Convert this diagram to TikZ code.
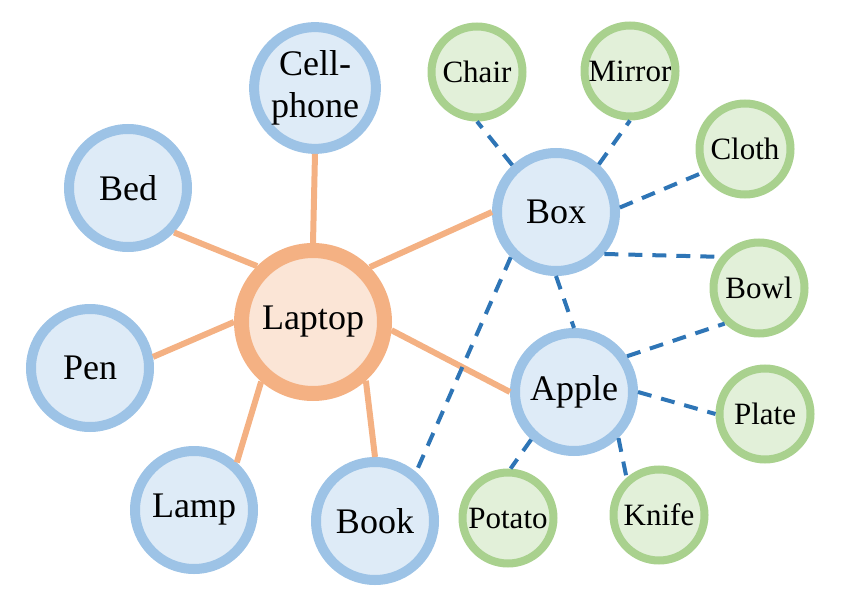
\documentclass[tikz,border=0pt]{standalone}
\usepackage{fontspec}
\setmainfont{Liberation Serif}

\definecolor{objline}{HTML}{9DC3E6}
\definecolor{objfill}{HTML}{DEEBF7}
\definecolor{mainline}{HTML}{F4B183}
\definecolor{mainfill}{HTML}{FBE5D6}
\definecolor{itemline}{HTML}{A9D18E}
\definecolor{itemfill}{HTML}{E2F0D9}
\definecolor{arcblue}{HTML}{2E75B6}

\begin{document}
\begin{tikzpicture}[x=0.5pt,y=-0.5pt]

\tikzstyle{objnode} = [circle,draw=objline,fill=objfill,line width=5pt,minimum size=59pt,inner sep=0,font=\fontsize{18}{20}\selectfont,text=black]%
\tikzstyle{mainnode} = [objnode,draw=mainline,fill=mainfill,line width=7.5pt,minimum size=71.5pt]%
\tikzstyle{itemnode} = [objnode,draw=itemline,fill=itemfill,line width=4pt,minimum size=45.5pt,font=\fontsize{15.5}{18}\selectfont]%
\tikzstyle{mainarc} = [draw=mainline,line width=3pt]%
\tikzstyle{itemarc} = [draw=arcblue,line width=2pt,dash pattern=on 7pt off 5pt]%

\useasboundingbox (0,0) rectangle (846,610);

\node[mainnode] (laptop) at (313, 322) {Laptop};

\node[objnode] (phone) at (315, 88) {\fontsize{18}{21}\selectfont\begin{tabular}{@{}c@{}}Cell-\\phone\end{tabular}};
\node[objnode] (bed) at (128, 188) {Bed};
\node[objnode] (pen) at (90, 368) {Pen};
\node[objnode] (lamp) at (194, 510) {Lamp};
\node[objnode] (book) at (375, 521) {Book};
\node[objnode] (box) at (556, 212) {Box};
\node[objnode] (apple) at (574, 392) {Apple};

\node[itemnode] (chair) at (477, 72) {Chair};
\node[itemnode] (mirror) at (630, 71) {Mirror};
\node[itemnode] (cloth) at (745, 149) {Cloth};
\node[itemnode] (bowl) at (759, 288) {Bowl};
\node[itemnode] (plate) at (765, 414) {Plate};
\node[itemnode] (knife) at (659, 515) {Knife};
\node[itemnode] (potato) at (508, 518) {Potato};

\draw[mainarc] (laptop.90) -- (phone.270);
\draw[mainarc] (laptop.135) -- (bed.-44);
\draw[mainarc] (laptop.180) -- (pen.10);
\draw[mainarc] (laptop.-131) -- (lamp.48);
\draw[mainarc] (laptop.-48) -- (book.90);
\draw[mainarc] (laptop.44) -- (box.180);
\draw[mainarc] (laptop.-6) -- (apple.180);

\draw[itemarc] (box.133) -- (chair.270);
\draw[itemarc] (box.48) -- (mirror.270);
\draw[itemarc] (box.4) -- (cloth.209);
\draw[itemarc] (box.-41) -- (bowl.141);
\draw[itemarc] (box.270) -- (apple.90);
\draw[itemarc] (box.225) -- (book.50);

\draw[itemarc] (apple.34) -- (bowl.226);
\draw[itemarc] (apple.0) -- (plate.180);
\draw[itemarc] (apple.-46) -- (knife.131);
\draw[itemarc] (apple.228) -- (potato.87);

\end{tikzpicture}
\end{document}
